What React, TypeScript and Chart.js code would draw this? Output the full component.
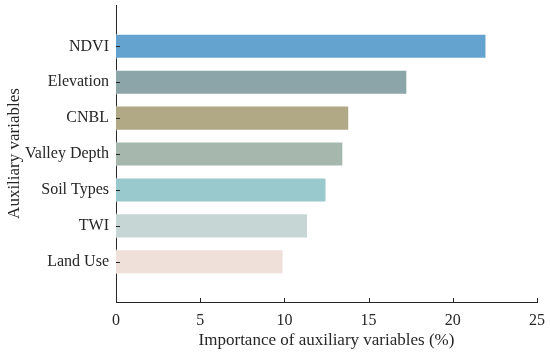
import React, { useEffect, useRef } from "react";
import { Chart, registerables } from "chart.js";

Chart.register(...registerables);

const categories = ["NDVI", "Elevation", "CNBL", "Valley Depth", "Soil Types", "TWI", "Land Use"];
const importance = [22.0, 17.3, 13.85, 13.5, 12.5, 11.4, 9.95];
const barColors = ["#64a3cf", "#8ca5a8", "#b1a886", "#a6b8ad", "#99c8cd", "#c6d6d5", "#efe0d9"];
const xTicks = [0, 5, 10, 15, 20, 25];

const FONT = "'Liberation Serif', 'DejaVu Serif', serif";
const TEXT = "#262626";

const inwardTicks = {
  id: "inwardTicks",
  afterDraw(chart: any) {
    const { ctx, chartArea, scales } = chart;
    const xs = scales.x;
    const ys = scales.y;
    ctx.save();
    ctx.strokeStyle = TEXT;
    ctx.lineWidth = 1;
    ctx.beginPath();
    xs.ticks.forEach((t: any) => {
      const px = Math.round(xs.getPixelForValue(t.value)) + 0.5;
      ctx.moveTo(px, chartArea.bottom);
      ctx.lineTo(px, chartArea.bottom - 4);
    });
    ys.ticks.forEach((t: any) => {
      const py = Math.round(ys.getPixelForValue(t.value)) + 0.5;
      ctx.moveTo(chartArea.left, py);
      ctx.lineTo(chartArea.left + 4, py);
    });
    ctx.stroke();
    ctx.restore();
  },
};

export default function App() {
  const ref = useRef<HTMLCanvasElement | null>(null);
  useEffect(() => {
    if (!ref.current) return;
    const chart = new Chart(ref.current, {
      type: "bar",
      data: {
        datasets: [
          {
            data: importance.map((v, i) => ({ x: v, y: i })),
            backgroundColor: barColors,
            borderColor: "rgba(255,255,255,0.6)",
            borderWidth: 1,
            barPercentage: 0.7,
            categoryPercentage: 1,
          },
        ],
      },
      options: {
        indexAxis: "y",
        animation: false,
        responsive: false,
        layout: { padding: { top: 5, right: 13, left: 0, bottom: 0 } },
        plugins: { legend: { display: false }, tooltip: { enabled: false } },
        scales: {
          x: {
            type: "linear",
            min: 0,
            max: 25,
            afterBuildTicks: (s: any) => {
              s.ticks = xTicks.map((v) => ({ value: v }));
            },
            afterFit: (s: any) => {
              s.height = 50;
              s.paddingLeft = 0;
              s.paddingRight = 0;
            },
            grid: { display: false, drawTicks: false },
            border: { display: true, color: TEXT, width: 1 },
            ticks: { color: TEXT, font: { family: FONT, size: 16 }, padding: 9, maxRotation: 0 },
            title: {
              display: true,
              text: "Importance of auxiliary variables (%)",
              color: TEXT,
              font: { family: FONT, size: 17 },
              padding: { top: 0, bottom: 1 },
            },
          },
          y: {
            type: "linear",
            reverse: true,
            offset: false,
            min: -1.15,
            max: 7.12,
            afterBuildTicks: (s: any) => {
              s.ticks = categories.map((_, i) => ({ value: i }));
            },
            afterFit: (s: any) => {
              s.width = 116;
              s.paddingTop = 0;
              s.paddingBottom = 0;
            },
            grid: { display: false, drawTicks: false, offset: false },
            border: { display: true, color: TEXT, width: 1 },
            ticks: {
              color: TEXT,
              font: { family: FONT, size: 16 },
              padding: 7,
              callback: (v: any) => categories[v as number] ?? "",
            },
            title: {
              display: true,
              text: "Auxiliary variables",
              color: TEXT,
              font: { family: FONT, size: 17 },
              padding: { top: 4, bottom: 0 },
            },
          },
        },
      },
      plugins: [inwardTicks],
    } as any);
    return () => chart.destroy();
  }, []);
  return (
    <div style={{ position: "fixed", left: 0, top: 0, width: 550, height: 352, background: "#fff" }}>
      <canvas ref={ref} width={550} height={352} />
    </div>
  );
}
